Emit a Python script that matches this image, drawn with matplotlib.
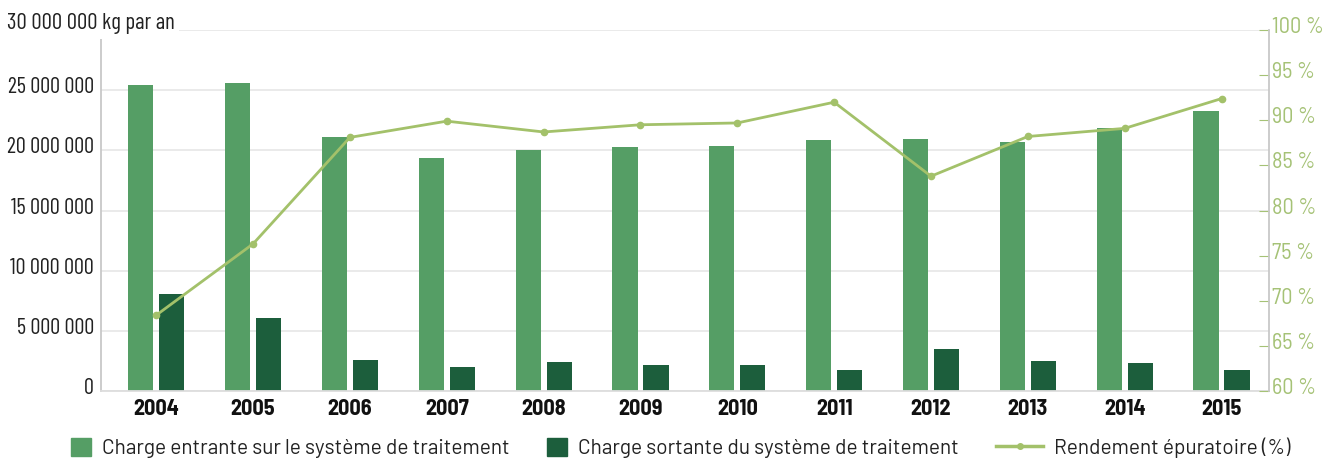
import matplotlib
matplotlib.use("Agg")
import matplotlib.pyplot as plt
import matplotlib.transforms as mtrans
import numpy as np
from matplotlib.lines import Line2D
from matplotlib.patches import Patch

# DIN-like faces, with fallbacks
COND = ['Barlow Condensed', 'Roboto', 'DejaVu Sans']
SEMI = ['Barlow Semi Condensed', 'Roboto', 'DejaVu Sans']
WIDE = ['Barlow', 'Roboto', 'DejaVu Sans']
plt.rcParams['font.family'] = COND

# ---- data ----
years = ['2004', '2005', '2006', '2007', '2008', '2009',
         '2010', '2011', '2012', '2013', '2014', '2015']
charge_in = [25.4e6, 25.6e6, 21.1e6, 19.35e6, 20.0e6, 20.27e6,
             20.35e6, 20.85e6, 20.93e6, 20.68e6, 21.85e6, 23.3e6]
charge_out = [8.06e6, 6.06e6, 2.57e6, 1.99e6, 2.4e6, 2.16e6,
              2.16e6, 1.74e6, 3.49e6, 2.49e6, 2.3e6, 1.74e6]
rendement = [68.4, 76.3, 88.1, 89.9, 88.7, 89.5,
             89.7, 92.0, 83.8, 88.2, 89.1, 92.4]

left_ticks = [0, 5e6, 10e6, 15e6, 20e6, 25e6, 30e6]
left_labels = ['0', '5 000 000', '10 000 000', '15 000 000',
               '20 000 000', '25 000 000', '']
right_ticks = [60, 65, 70, 75, 80, 85, 90, 95, 100]
right_labels = ['%d %%' % t for t in right_ticks]

light = '#559e65'
dark = '#1c5e3c'
linec = '#a3c16a'
pctc = '#a5c276'
grey = '#c8c8c8'
txtc = '#222222'

fig = plt.figure(figsize=(13.42, 4.62), dpi=100)
ax = fig.add_axes([101/1342, 1-391/462, (1269-101)/1342, (391-30)/462])

x = np.arange(len(years))
w = 0.26
ax.bar(x - 0.16, charge_in, w, color=light, zorder=2)
ax.bar(x + 0.16, charge_out, w, color=dark, zorder=2)

ax.set_xlim(-0.57, 11.49)
ax.set_ylim(0, 30e6)
ax.set_yticks(left_ticks)
ax.set_yticklabels(left_labels, fontsize=16, color=txtc)
ax.set_xticks(x)
ax.set_xticklabels(years, fontsize=16, fontweight='bold', color='#111111',
                   family=SEMI)
ax.tick_params(axis='y', length=0, pad=5)
ax.tick_params(axis='x', length=0, pad=6)
ax.grid(axis='y', color='#e6e6e6', linewidth=1.2, zorder=0)
ax.set_axisbelow(True)
for s in ['top', 'right']:
    ax.spines[s].set_visible(False)
ax.spines['left'].set_color(grey)
ax.spines['left'].set_linewidth(1.3)
ax.spines['bottom'].set_color('#dddddd')
ax.spines['bottom'].set_linewidth(1.3)

# labels sit a few pixels above their gridlines
up = mtrans.ScaledTranslation(0, 5/100, fig.dpi_scale_trans)
for lab in ax.get_yticklabels():
    lab.set_transform(lab.get_transform() + up)

# unit label sitting on the top gridline
fig.text(7/1342, 1-24/462, '30 000 000 kg par an', fontsize=16.5, color=txtc,
         va='center', ha='left',
         bbox=dict(facecolor='white', edgecolor='none', pad=3), zorder=10)

ax2 = ax.twinx()
ax2.plot(x, rendement, color=linec, linewidth=2, marker='o', markersize=4.5, zorder=3)
ax2.set_ylim(60, 100)
ax2.set_yticks(right_ticks)
ax2.set_yticklabels(right_labels, fontsize=16, color=pctc, family=SEMI)
ax2.tick_params(axis='y', direction='in', length=7, color=pctc, pad=2)
for lab in ax2.get_yticklabels():
    lab.set_transform(lab.get_transform() + up)
for s in ['top', 'left', 'bottom']:
    ax2.spines[s].set_visible(False)
ax2.spines['right'].set_color(grey)
ax2.spines['right'].set_linewidth(1.3)

# three legend entries placed separately (squares vs. line handle)
leg_y = 1 - 448/462
entries = [
    (Patch(color=light), 'Charge entrante sur le système de traitement', 71, 0.95),
    (Patch(color=dark), 'Charge sortante du système de traitement', 547, 0.95),
    (Line2D([0], [0], color=linec, linewidth=2.5, marker='o', markersize=4),
     'Rendement épuratoire (%)', 996, 2.26),
]
for h, lab, xpix, hl in entries:
    fig.legend([h], [lab], loc='center left', bbox_to_anchor=(xpix/1342, leg_y),
               frameon=False, prop={'family': WIDE, 'size': 15},
               handlelength=hl, handleheight=1.0,
               handletextpad=0.53, borderpad=0, borderaxespad=0,
               labelcolor=txtc)

fig.savefig('out.png', dpi=100)
